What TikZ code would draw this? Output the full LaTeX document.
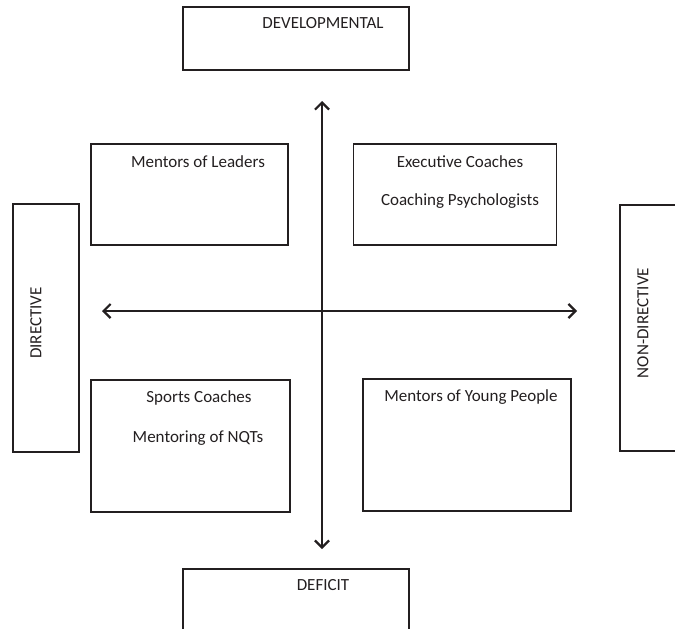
\documentclass[tikz,border=0pt]{standalone}
\usepackage{fontspec}
\setmainfont{Carlito}
\usetikzlibrary{arrows.meta}
\definecolor{ink}{HTML}{231F20}
\tikzset{
  box/.style={draw=ink, line width=1.8pt, rectangle, inner sep=0pt},
  lbl/.style={text=ink, font=\fontsize{17}{20}\selectfont, inner sep=0pt},
  axis/.style={draw=ink, line width=2.2pt, {Straight Barb[length=7pt,width=14pt]}-{Straight Barb[length=7pt,width=14pt]}}
}
\begin{document}
\begin{tikzpicture}[x=1pt,y=-1pt]
\useasboundingbox (0,0) rectangle (675,629);
\clip (0,0) rectangle (675,629);
% outer boxes
\node[box, minimum width=226pt, minimum height=63pt] (dev) at (296,38.5) {};
\node[box, minimum width=226pt, minimum height=80pt] (def) at (296,609) {};
\node[box, minimum width=66pt, minimum height=248pt] (dir) at (46,328) {};
\node[box, minimum width=80pt, minimum height=246pt] (nondir) at (660,328) {};
\node[lbl] at (323,23) {DEVELOPMENTAL};
\node[lbl] at (323,585) {DEFICIT};
\node[lbl, rotate=90] at (36,323) {DIRECTIVE};
\node[lbl, rotate=90] at (643,323) {NON-DIRECTIVE};
% quadrant boxes
\node[box, minimum width=197pt, minimum height=101pt] (tl) at (189.5,194.5) {};
\node[box, minimum width=203pt, minimum height=101pt] (tr) at (455,194.5) {};
\node[box, minimum width=199pt, minimum height=132pt] (bl) at (190.5,446) {};
\node[box, minimum width=208pt, minimum height=132pt] (br) at (467,445) {};
\node[lbl] at (198,162) {Mentors of Leaders};
\node[lbl] at (460,162) {Executive Coaches};
\node[lbl] at (460,201) {Coaching Psychologists};
\node[lbl] at (199,398) {Sports Coaches};
\node[lbl] at (198,438) {Mentoring of NQTs};
\node[lbl] at (471,397) {Mentors of Young People};
% axes
\coordinate (up) at (322,101);
\coordinate (down) at (322,549);
\coordinate (left) at (102,311);
\coordinate (right) at (577,311);
\draw[axis] (down) -- (up);
\draw[axis] (left) -- (right);
\end{tikzpicture}
\end{document}
